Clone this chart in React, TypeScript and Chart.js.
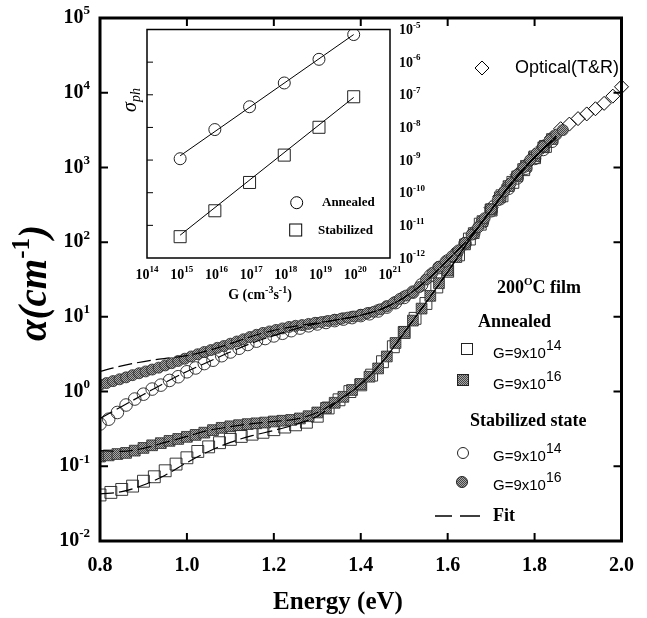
import React, { useEffect, useRef } from 'react';
import { Chart, registerables } from 'chart.js';

Chart.register(...registerables);

const SERIF = '"Liberation Serif", "Times New Roman", Times, serif';
const SANS = '"Liberation Sans", Arial, Helvetica, sans-serif';

// ---------------- main chart: axes ----------------
const X_TICKS = [0.8, 1.0, 1.2, 1.4, 1.6, 1.8, 2.0];
const Y_EXPONENTS = [5, 4, 3, 2, 1, 0, -1, -2];

// Annealed, G = 9x10^14 (open squares)
const E_ANN14 = [0.800, 0.825, 0.850, 0.875, 0.900, 0.925, 0.950, 0.975, 1.000, 1.025,
  1.050, 1.075, 1.100, 1.125, 1.150, 1.175, 1.200, 1.225, 1.250, 1.275,
  1.300, 1.325, 1.350, 1.375, 1.400, 1.425, 1.450, 1.475, 1.500, 1.525,
  1.550, 1.575, 1.600, 1.625, 1.650, 1.675, 1.700, 1.725, 1.750, 1.775,
  1.800, 1.825];
const A_ANN14 = [0.0413, 0.0447, 0.0490, 0.0543, 0.0631, 0.0724, 0.0871, 0.107, 0.130, 0.158,
  0.182, 0.207, 0.229, 0.251, 0.269, 0.285, 0.309, 0.335, 0.359, 0.389,
  0.468, 0.603, 0.776, 1.0, 1.23, 1.66, 2.51, 3.98, 6.17, 9.55,
  15.1, 25.1, 40.7, 67.6, 110, 174, 269, 417, 631, 933,
  1350, 1910];

// Annealed, G = 9x10^16 (filled squares)
const E_ANN16 = [0.80, 0.82, 0.84, 0.86, 0.88, 0.90, 0.92, 0.94, 0.96, 0.98,
  1.00, 1.02, 1.04, 1.06, 1.08, 1.10, 1.12, 1.14, 1.16, 1.18,
  1.20, 1.22, 1.24, 1.26, 1.28, 1.30, 1.32, 1.34, 1.36, 1.38,
  1.40, 1.42, 1.44, 1.46, 1.48, 1.50, 1.52, 1.54, 1.56, 1.58,
  1.60, 1.62, 1.64, 1.66, 1.68, 1.70, 1.72, 1.74, 1.76, 1.78,
  1.80, 1.82, 1.84];
const A_ANN16 = [0.135, 0.140, 0.146, 0.151, 0.162, 0.176, 0.191, 0.204, 0.219, 0.232,
  0.248, 0.263, 0.282, 0.305, 0.327, 0.343, 0.355, 0.367, 0.376, 0.385,
  0.398, 0.407, 0.417, 0.437, 0.468, 0.525, 0.603, 0.708, 0.851, 1.05,
  1.26, 1.58, 2.04, 2.95, 4.47, 6.31, 8.91, 12.9, 19.1, 28.2,
  41.7, 63.1, 93.3, 132, 191, 275, 398, 562, 759, 1050,
  1410, 1860, 2400];

// Stabilized state, G = 9x10^14 (open circles)
const E_STAB14 = [0.80, 0.82, 0.84, 0.86, 0.88, 0.90, 0.92, 0.94, 0.96, 0.98,
  1.00, 1.02, 1.04, 1.06, 1.08, 1.10, 1.12, 1.14, 1.16, 1.18,
  1.20, 1.22, 1.24, 1.26, 1.28, 1.30, 1.32, 1.34, 1.36, 1.38,
  1.40, 1.42, 1.44, 1.46, 1.48, 1.50, 1.52, 1.54, 1.56, 1.58,
  1.60, 1.62, 1.64, 1.66, 1.68, 1.70, 1.72, 1.74, 1.76, 1.78,
  1.80, 1.82, 1.84];
const A_STAB14 = [0.368, 0.427, 0.525, 0.661, 0.794, 0.923, 1.08, 1.22, 1.41, 1.58,
  1.84, 2.07, 2.37, 2.63, 3.02, 3.39, 3.80, 4.27, 4.73, 5.13,
  5.56, 6.03, 6.53, 7.08, 7.59, 8.04, 8.41, 8.91, 9.33, 9.77,
  10.4, 11.0, 12.0, 13.5, 15.5, 18.2, 21.4, 26.9, 35.5, 45.7,
  56.2, 70.8, 95.5, 132, 186, 263, 380, 525, 724, 977,
  1320, 1740, 2240];

// Stabilized state, G = 9x10^16 (filled circles)
const E_STAB16 = [0.800, 0.815, 0.830, 0.845, 0.860, 0.875, 0.890, 0.905, 0.920, 0.935,
  0.950, 0.965, 0.980, 0.995, 1.010, 1.025, 1.040, 1.055, 1.070, 1.085,
  1.100, 1.115, 1.130, 1.145, 1.160, 1.175, 1.190, 1.205, 1.220, 1.235,
  1.250, 1.265, 1.280, 1.295, 1.310, 1.325, 1.340, 1.355, 1.370, 1.385,
  1.400, 1.415, 1.430, 1.445, 1.460, 1.475, 1.490, 1.505, 1.520, 1.535,
  1.550, 1.565, 1.580, 1.595, 1.610, 1.625, 1.640, 1.655, 1.670, 1.685,
  1.700, 1.715, 1.730, 1.745, 1.760, 1.775, 1.790, 1.805, 1.820, 1.835,
  1.850, 1.865];
const A_STAB16 = [1.23, 1.30, 1.38, 1.46, 1.55, 1.66, 1.76, 1.86, 1.97, 2.09,
  2.24, 2.40, 2.57, 2.75, 2.95, 3.16, 3.39, 3.59, 3.85, 4.07,
  4.37, 4.68, 5.01, 5.37, 5.75, 6.10, 6.38, 6.68, 7.00, 7.33,
  7.59, 7.76, 8.04, 8.32, 8.51, 8.81, 9.12, 9.44, 9.77, 10.1,
  10.6, 11.2, 11.7, 12.6, 13.8, 15.3, 17.4, 19.3, 21.4, 25.1,
  31.6, 38.9, 46.8, 55.0, 64.6, 77.6, 97.7, 126, 158, 209,
  275, 363, 479, 617, 794, 1000, 1260, 1550, 1910, 2340,
  2750, 3160];

// Optical (T&R) (open diamonds)
const E_OPT = [1.70, 1.72, 1.74, 1.76, 1.78, 1.80, 1.82, 1.84, 1.86, 1.88, 1.90, 1.92, 1.94, 1.96, 1.98, 2.00];
const A_OPT = [290, 410, 580, 800, 1080, 1450, 1900, 2500, 3300, 3800, 4500, 5200, 6100, 7200, 9000, 12000];

// Fit curves (dashed)
const E_FIT = [0.80, 0.85, 0.90, 0.95, 1.00, 1.05, 1.10, 1.15, 1.20, 1.25, 1.30,
  1.35, 1.40, 1.45, 1.50, 1.55, 1.60, 1.65, 1.70, 1.75, 1.80, 1.85];
const E_FIT_S16 = [0.80, 0.84, 0.88, 0.92, 0.96, 1.00, 1.05, 1.10, 1.15, 1.20, 1.25, 1.30,
  1.35, 1.40, 1.45, 1.50, 1.55, 1.60, 1.65, 1.70, 1.75, 1.80, 1.85];
const FIT_STAB16 = [1.86, 2.14, 2.40, 2.63, 2.82, 3.02, 3.55, 4.37, 5.50, 6.61, 7.50, 8.32,
  9.23, 10.5, 12.9, 18.2, 30.2, 57.5, 115, 269, 661, 1380, 2630];
const FIT_STAB14 = [0.437, 0.631, 0.912, 1.32, 1.86, 2.51, 3.39, 4.47, 5.62, 6.92, 8.13,
  9.23, 10.5, 12.9, 18.2, 30.2, 57.5, 115, 269, 661, 1380, 2630];
const FIT_ANN16 = [0.162, 0.158, 0.174, 0.209, 0.251, 0.302, 0.339, 0.372, 0.398, 0.427, 0.525,
  0.776, 1.26, 2.51, 6.17, 15.5, 39.8, 107, 269, 631, 1350, 2510];
const FIT_ANN14 = [0.0427, 0.0457, 0.0562, 0.0759, 0.112, 0.158, 0.209, 0.257, 0.302, 0.363, 0.468,
  0.759, 1.26, 2.51, 6.17, 15.5, 39.8, 107, 269, 631, 1350, 2510];

// ---------------- inset data ----------------
const G_EXPONENTS = [14, 15, 16, 17, 18, 19, 20, 21];
const SIG_EXPONENTS = [-5, -6, -7, -8, -9, -10, -11, -12];
const G_INSET = [9e14, 9e15, 9e16, 9e17, 9e18, 9e19];
const SIG_ANNEALED = [1.1e-9, 8.6e-9, 4.3e-8, 2.3e-7, 1.22e-6, 7.0e-6];
const SIG_STABILIZED = [4.5e-12, 2.8e-11, 2.06e-10, 1.42e-9, 1.01e-8, 8.7e-8];
const G_FIT = [9e14, 9e19];
const SIG_FIT_ANNEALED = [1.35e-9, 7.0e-6];
const SIG_FIT_STABILIZED = [5.0e-12, 8.3e-8];

const INSET_LEFT = 110;
const INSET_TOP = 20;
const INSET_W = 340;
const INSET_H = 295;

type Run = { t: string; f: string; dy?: number };

function drawRuns(ctx: CanvasRenderingContext2D, x: number, y: number, runs: Run[], align: 'left' | 'right' | 'center') {
  let w = 0;
  for (const r of runs) { ctx.font = r.f; w += ctx.measureText(r.t).width; }
  let cx = align === 'right' ? x - w : align === 'center' ? x - w / 2 : x;
  ctx.textAlign = 'left';
  ctx.textBaseline = 'middle';
  for (const r of runs) {
    ctx.font = r.f;
    ctx.fillText(r.t, cx, y + (r.dy || 0));
    cx += ctx.measureText(r.t).width;
  }
}

function pts(xs: number[], ys: number[]) {
  return xs.map((x, i) => ({ x, y: ys[i] }));
}

function makePattern(): CanvasPattern | string {
  const c = document.createElement('canvas');
  c.width = 2; c.height = 2;
  const g = c.getContext('2d');
  if (!g) return '#808080';
  g.fillStyle = '#a8a8a8'; g.fillRect(0, 0, 2, 2);
  g.fillStyle = '#444444'; g.fillRect(0, 0, 1, 1); g.fillRect(1, 1, 1, 1);
  return g.createPattern(c, 'repeat') || '#808080';
}

export default function App() {
  const mainRef = useRef<HTMLCanvasElement>(null);
  const insetRef = useRef<HTMLCanvasElement>(null);

  useEffect(() => {
    const fill = makePattern();

    const mainDecor = {
      id: 'mainDecor',
      afterDatasetsDraw(chart: any) {
        const { ctx, chartArea: a, scales } = chart;
        const xs = scales.x, ys = scales.y;
        ctx.save();
        ctx.fillStyle = '#000';
        ctx.strokeStyle = '#000';
        // frame
        ctx.lineWidth = 3;
        ctx.strokeRect(a.left, a.top, a.right - a.left, a.bottom - a.top);
        // inward ticks
        ctx.lineWidth = 2;
        ctx.beginPath();
        for (const v of X_TICKS.slice(1, -1)) {
          const px = xs.getPixelForValue(v);
          ctx.moveTo(px, a.bottom); ctx.lineTo(px, a.bottom - 8);
          ctx.moveTo(px, a.top); ctx.lineTo(px, a.top + 8);
        }
        for (const p of Y_EXPONENTS.slice(1, -1)) {
          const py = ys.getPixelForValue(Math.pow(10, p));
          ctx.moveTo(a.left, py); ctx.lineTo(a.left + 8, py);
          ctx.moveTo(a.right, py); ctx.lineTo(a.right - 8, py);
        }
        ctx.stroke();
        // y tick labels
        for (const p of Y_EXPONENTS) {
          const py = ys.getPixelForValue(Math.pow(10, p));
          drawRuns(ctx, a.left - 10, py, [
            { t: '10', f: `bold 20px ${SERIF}` },
            { t: String(p), f: `bold 13px ${SERIF}`, dy: -7 },
          ], 'right');
        }
        // axis titles
        drawRuns(ctx, 338, 603, [{ t: 'Energy (eV)', f: `bold 25px ${SERIF}` }], 'center');
        ctx.save();
        ctx.translate(36, 283);
        ctx.rotate(-Math.PI / 2);
        drawRuns(ctx, 0, 0, [
          { t: 'α(cm', f: `italic bold 39px ${SERIF}` },
          { t: '-1', f: `bold 25px ${SERIF}`, dy: -13 },
          { t: ')', f: `italic bold 39px ${SERIF}` },
        ], 'center');
        ctx.restore();

        // Optical legend
        ctx.lineWidth = 1;
        ctx.beginPath();
        ctx.moveTo(475, 68); ctx.lineTo(482, 61); ctx.lineTo(489, 68); ctx.lineTo(482, 75); ctx.closePath();
        ctx.stroke();
        drawRuns(ctx, 515, 68, [{ t: 'Optical(T&R)', f: `18px ${SANS}` }], 'left');

        // legend block
        drawRuns(ctx, 497, 288, [
          { t: '200', f: `bold 18px ${SERIF}` },
          { t: 'O', f: `bold 11px ${SERIF}`, dy: -6 },
          { t: 'C film', f: `bold 18px ${SERIF}` },
        ], 'left');
        drawRuns(ctx, 478, 322, [{ t: 'Annealed', f: `bold 18px ${SERIF}` }], 'left');
        const gText = (y: number, sup: string) => drawRuns(ctx, 493, y, [
          { t: 'G=9x10', f: `15px ${SANS}` },
          { t: sup, f: `14px ${SANS}`, dy: -8 },
        ], 'left');
        // open square
        ctx.lineWidth = 1;
        ctx.strokeStyle = '#222';
        ctx.strokeRect(461.5, 343.5, 11, 11);
        gText(354, '14');
        // filled square
        ctx.fillStyle = fill as any;
        ctx.fillRect(457.5, 374.5, 11, 11);
        ctx.strokeRect(457.5, 374.5, 11, 11);
        ctx.fillStyle = '#000';
        gText(385, '16');
        drawRuns(ctx, 470, 421, [{ t: 'Stabilized state', f: `bold 18px ${SERIF}` }], 'left');
        ctx.beginPath(); ctx.arc(463, 453, 5.5, 0, Math.PI * 2); ctx.stroke();
        gText(457, '14');
        ctx.beginPath(); ctx.arc(462, 482, 5.5, 0, Math.PI * 2);
        ctx.fillStyle = fill as any; ctx.fill(); ctx.stroke();
        ctx.fillStyle = '#000';
        gText(486, '16');
        // fit
        ctx.strokeStyle = '#000';
        ctx.lineWidth = 1.5;
        ctx.beginPath();
        ctx.moveTo(435, 516); ctx.lineTo(452, 516);
        ctx.moveTo(460, 516); ctx.lineTo(480, 516);
        ctx.stroke();
        drawRuns(ctx, 493, 516, [{ t: 'Fit', f: `bold 18px ${SERIF}` }], 'left');
        ctx.restore();
      },
    };

    const fitStyle = {
      showLine: true,
      borderColor: '#000',
      borderWidth: 1.2,
      borderDash: [14, 5],
      pointRadius: 0,
      cubicInterpolationMode: 'monotone' as const,
      order: 0,
    };

    const main = new Chart(mainRef.current as HTMLCanvasElement, {
      type: 'scatter',
      data: {
        datasets: [
          { label: 'Fit stabilized 9e16', data: pts(E_FIT_S16, FIT_STAB16), ...fitStyle },
          { label: 'Fit stabilized 9e14', data: pts(E_FIT, FIT_STAB14), ...fitStyle },
          { label: 'Fit annealed 9e16', data: pts(E_FIT, FIT_ANN16), ...fitStyle },
          { label: 'Fit annealed 9e14', data: pts(E_FIT, FIT_ANN14), ...fitStyle },
          {
            label: 'Stabilized G=9x10^16', data: pts(E_STAB16, A_STAB16), showLine: false,
            pointStyle: 'circle', pointRadius: 5.5, backgroundColor: fill as any,
            borderColor: '#2a2a2a', borderWidth: 0.8, order: 1,
          },
          {
            label: 'Annealed G=9x10^16', data: pts(E_ANN16, A_ANN16), showLine: false,
            pointStyle: 'rect', pointRadius: 7.6, backgroundColor: fill as any,
            borderColor: '#2a2a2a', borderWidth: 0.8, order: 2,
          },
          {
            label: 'Stabilized G=9x10^14', data: pts(E_STAB14, A_STAB14), showLine: false,
            pointStyle: 'circle', pointRadius: 6.3, backgroundColor: 'rgba(255,255,255,0)',
            borderColor: '#222', borderWidth: 0.9, order: 3,
          },
          {
            label: 'Annealed G=9x10^14', data: pts(E_ANN14, A_ANN14), showLine: false,
            pointStyle: 'rect', pointRadius: 8.4, backgroundColor: 'rgba(255,255,255,0)',
            borderColor: '#222', borderWidth: 0.9, order: 4,
          },
          {
            label: 'Optical(T&R)', data: pts(E_OPT, A_OPT), showLine: false,
            pointStyle: 'rectRot', pointRadius: 7, backgroundColor: 'rgba(255,255,255,0)',
            borderColor: '#000', borderWidth: 1, order: 5, clip: false as any,
          },
        ] as any,
      },
      options: {
        animation: false,
        responsive: false,
        devicePixelRatio: 1,
        events: [],
        layout: { padding: { left: 0, right: 24, top: 18, bottom: 0 } },
        plugins: { legend: { display: false }, tooltip: { enabled: false } },
        scales: {
          x: {
            type: 'linear', position: 'bottom', min: 0.8, max: 2.0,
            grid: { display: false, drawTicks: false }, border: { display: false },
            afterBuildTicks: (s: any) => { s.ticks = X_TICKS.map((v) => ({ value: v })); },
            afterFit: (s: any) => { s.height = 77; },
            ticks: {
              padding: 13, color: '#000', autoSkip: false, maxRotation: 0,
              font: { family: SERIF, size: 20, weight: 'bold' },
              callback: (v: any) => Number(v).toFixed(1),
            },
          },
          y: {
            type: 'logarithmic', min: 0.01, max: 1e5,
            grid: { display: false, drawTicks: false }, border: { display: false },
            ticks: { display: false },
            afterBuildTicks: (s: any) => { s.ticks = Y_EXPONENTS.map((p) => ({ value: Math.pow(10, p) })); },
            afterFit: (s: any) => { s.width = 100; },
          },
        },
      } as any,
      plugins: [mainDecor],
    });

    const insetDecor = {
      id: 'insetDecor',
      afterDatasetsDraw(chart: any) {
        const { ctx, chartArea: a, scales } = chart;
        const xs = scales.x, ys = scales.y;
        ctx.save();
        ctx.fillStyle = '#000';
        ctx.strokeStyle = '#000';
        ctx.lineWidth = 1.5;
        ctx.strokeRect(a.left, a.top, a.right - a.left, a.bottom - a.top);
        ctx.lineWidth = 1;
        ctx.beginPath();
        for (const p of SIG_EXPONENTS.slice(1, -1)) {
          const py = ys.getPixelForValue(Math.pow(10, p));
          ctx.moveTo(a.left, py); ctx.lineTo(a.left + 6, py);
        }
        ctx.stroke();
        for (const p of SIG_EXPONENTS) {
          const py = ys.getPixelForValue(Math.pow(10, p));
          drawRuns(ctx, a.right + 9, py + 1, [
            { t: '10', f: `bold 14px ${SERIF}` },
            { t: String(p), f: `bold 9px ${SERIF}`, dy: -5 },
          ], 'left');
        }
        for (const p of G_EXPONENTS) {
          const px = xs.getPixelForValue(Math.pow(10, p));
          drawRuns(ctx, px, a.bottom + 17, [
            { t: '10', f: `bold 14px ${SERIF}` },
            { t: String(p), f: `bold 9px ${SERIF}`, dy: -5 },
          ], 'center');
        }
        drawRuns(ctx, 260 - INSET_LEFT, 295 - INSET_TOP, [
          { t: 'G (cm', f: `bold 14px ${SERIF}` },
          { t: '-3', f: `bold 10px ${SERIF}`, dy: -5 },
          { t: 's', f: `bold 14px ${SERIF}` },
          { t: '-1', f: `bold 10px ${SERIF}`, dy: -5 },
          { t: ')', f: `bold 14px ${SERIF}` },
        ], 'center');
        ctx.save();
        ctx.translate(131 - INSET_LEFT, 100 - INSET_TOP);
        ctx.rotate(-Math.PI / 2);
        drawRuns(ctx, 0, 0, [
          { t: 'σ', f: `italic 20px ${SERIF}` },
          { t: 'ph', f: `italic 14px ${SERIF}`, dy: 5 },
        ], 'center');
        ctx.restore();
        // legend
        ctx.lineWidth = 1;
        ctx.beginPath(); ctx.arc(296.7 - INSET_LEFT, 202.7 - INSET_TOP, 6, 0, Math.PI * 2); ctx.stroke();
        drawRuns(ctx, 322 - INSET_LEFT, 203 - INSET_TOP, [{ t: 'Annealed', f: `bold 13px ${SERIF}` }], 'left');
        ctx.strokeRect(289.7 - INSET_LEFT, 224 - INSET_TOP, 12, 12);
        drawRuns(ctx, 318 - INSET_LEFT, 231 - INSET_TOP, [{ t: 'Stabilized', f: `bold 13px ${SERIF}` }], 'left');
        ctx.restore();
      },
    };

    const inset = new Chart(insetRef.current as HTMLCanvasElement, {
      type: 'scatter',
      data: {
        datasets: [
          { label: 'Fit annealed', data: pts(G_FIT, SIG_FIT_ANNEALED), showLine: true, borderColor: '#000', borderWidth: 1, pointRadius: 0, order: 0 },
          { label: 'Fit stabilized', data: pts(G_FIT, SIG_FIT_STABILIZED), showLine: true, borderColor: '#000', borderWidth: 1, pointRadius: 0, order: 0 },
          {
            label: 'Annealed', data: pts(G_INSET, SIG_ANNEALED), showLine: false,
            pointStyle: 'circle', pointRadius: 6, backgroundColor: 'rgba(255,255,255,0)',
            borderColor: '#222', borderWidth: 1, order: 1,
          },
          {
            label: 'Stabilized', data: pts(G_INSET, SIG_STABILIZED), showLine: false,
            pointStyle: 'rect', pointRadius: 8.5, backgroundColor: 'rgba(255,255,255,0)',
            borderColor: '#222', borderWidth: 1, order: 1,
          },
        ] as any,
      },
      options: {
        animation: false,
        responsive: false,
        devicePixelRatio: 1,
        events: [],
        layout: { padding: { left: 37, right: 0, top: 8, bottom: 0 } },
        plugins: { legend: { display: false }, tooltip: { enabled: false } },
        scales: {
          x: {
            type: 'logarithmic', min: 1e14, max: 1e21,
            grid: { display: false, drawTicks: false }, border: { display: false },
            ticks: { display: false },
            afterFit: (s: any) => { s.height = INSET_H - 238; },
          },
          y: {
            type: 'logarithmic', position: 'right', min: 1e-12, max: 1e-5,
            grid: { display: false, drawTicks: false }, border: { display: false },
            ticks: { display: false },
            afterFit: (s: any) => { s.width = INSET_W - 280; },
          },
        },
      } as any,
      plugins: [insetDecor],
    });

    return () => { main.destroy(); inset.destroy(); };
  }, []);

  return (
    <div style={{ position: 'absolute', left: 0, top: 0, width: 647, height: 618, background: '#fff', overflow: 'hidden' }}>
      <canvas ref={mainRef} width={647} height={618} style={{ position: 'absolute', left: 0, top: 0 }} />
      <canvas ref={insetRef} width={INSET_W} height={INSET_H} style={{ position: 'absolute', left: INSET_LEFT, top: INSET_TOP }} />
    </div>
  );
}
